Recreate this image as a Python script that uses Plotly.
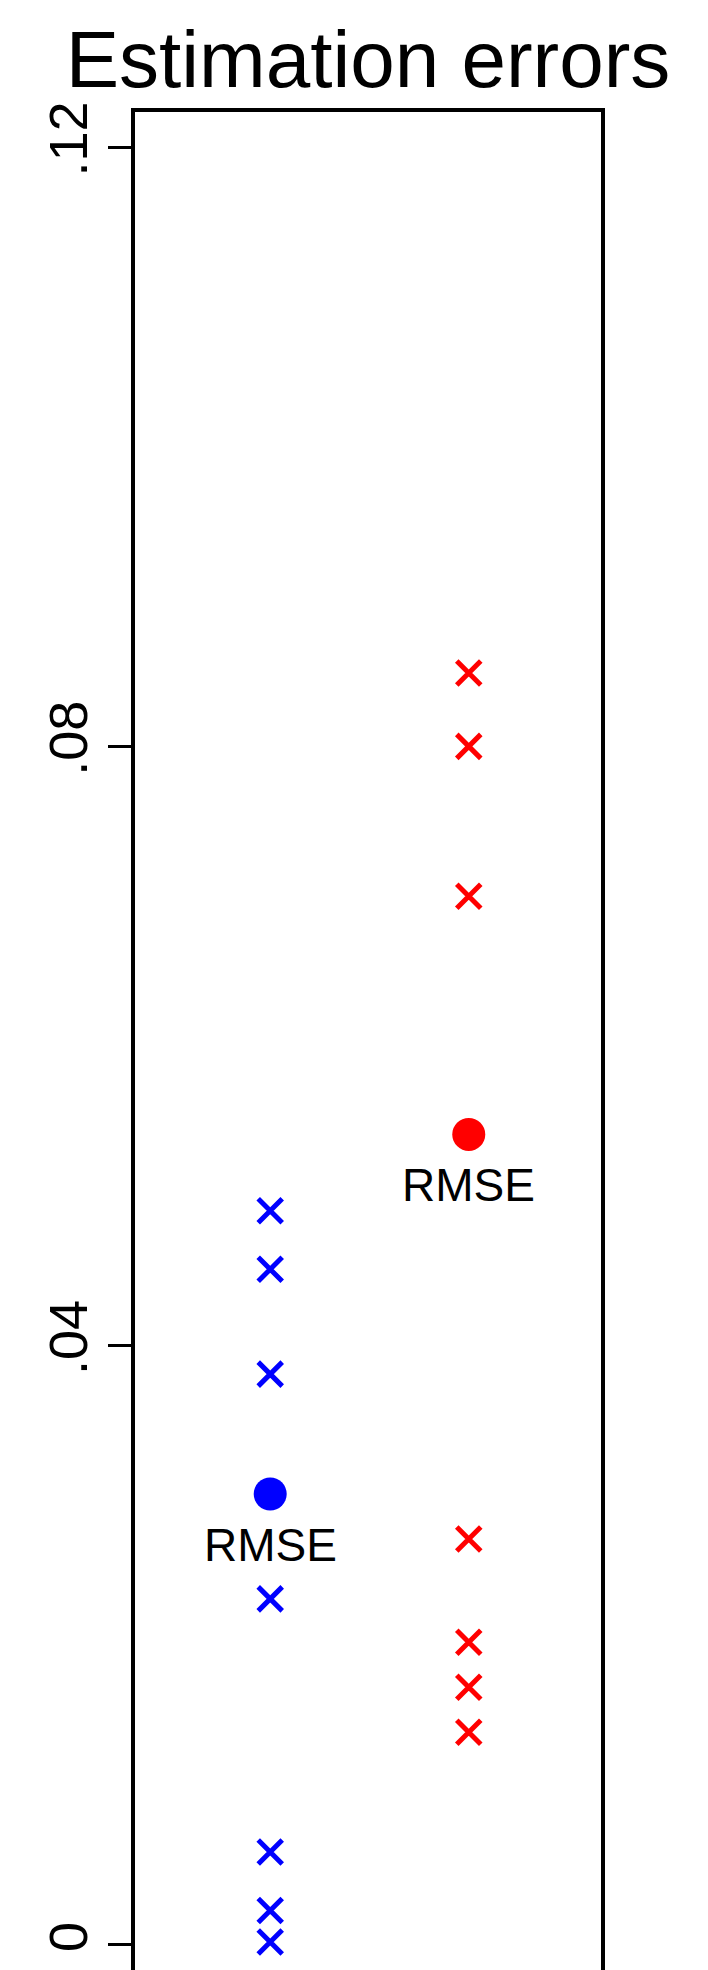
import plotly.graph_objects as go

# Data
groups = [1, 2]
group_colors = ["#0000ff", "#ff0000"]
blue_errors = [0.0490, 0.0451, 0.0381, 0.0231, 0.0062, 0.0023, 0.0002]
red_errors = [0.0849, 0.0800, 0.0700, 0.0271, 0.0202, 0.0172, 0.0142]
rmse_values = [0.0301, 0.0541]
rmse_label = "RMSE"
y_ticks = [0, 0.04, 0.08, 0.12]
y_tick_labels = ["0", ".04", ".08", ".12"]
title_text = "Estimation errors"

FONT = "Liberation Sans, Arial, sans-serif"

fig = go.Figure()
for g, errs, col in zip(groups, [blue_errors, red_errors], group_colors):
    fig.add_trace(go.Scatter(
        x=[g] * len(errs), y=errs, mode="markers",
        marker=dict(symbol="x-thin", size=24, color=col,
                    line=dict(width=5, color=col)),
        showlegend=False, hoverinfo="y"))
for g, r, col in zip(groups, rmse_values, group_colors):
    fig.add_trace(go.Scatter(
        x=[g], y=[r], mode="markers",
        marker=dict(symbol="circle", size=33, color=col, line=dict(width=0)),
        showlegend=False, hoverinfo="y"))
    fig.add_annotation(x=g, y=r, xref="x", yref="y", text=rmse_label,
                       showarrow=False, yshift=-51, yanchor="middle",
                       font=dict(family=FONT, size=46, color="black"))

fig.update_layout(
    width=708, height=1970,
    margin=dict(l=127, r=115, t=104, b=2, pad=0, autoexpand=False),
    paper_bgcolor="white", plot_bgcolor="white",
    title=dict(text=title_text, x=0.5, xref="paper", xanchor="center",
               y=1 - 51 / 1970, yref="container", yanchor="middle",
               font=dict(family=FONT, size=80, color="black")),
    font=dict(family=FONT, color="black"),
)
fig.update_xaxes(range=[0.319, 2.666], showgrid=False, zeroline=False,
                 showticklabels=False, ticks="", showline=True, automargin=False,
                 linecolor="black", linewidth=3.5, mirror=True)
fig.update_yaxes(range=[-0.00207, 0.12234], tickvals=y_ticks, ticktext=y_tick_labels,
                 tickangle=-90, ticks="outside", ticklen=23, tickwidth=3,
                 tickcolor="black", showgrid=False, zeroline=False, automargin=False,
                 showline=True, linecolor="black", linewidth=3.5, mirror=True,
                 tickfont=dict(family=FONT, size=54, color="black"))

fig.write_html("out.html")
